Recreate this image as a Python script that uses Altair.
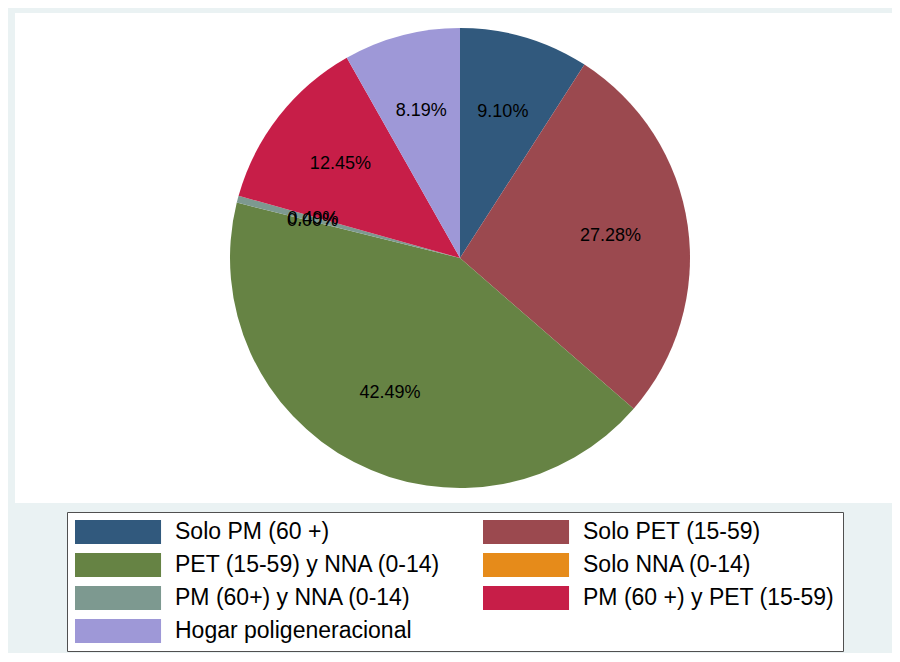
import altair as alt
import pandas as pd

categories = [
    "Solo PM (60 +)",
    "Solo PET (15-59)",
    "PET (15-59) y NNA (0-14)",
    "Solo NNA (0-14)",
    "PM (60+) y NNA (0-14)",
    "PM (60 +) y PET (15-59)",
    "Hogar poligeneracional",
]
shares = [9.10, 27.28, 42.49, 0.00, 0.49, 12.45, 8.19]
colors = ["#31597D", "#9B494F", "#668344", "#E68B1A", "#7D9990", "#C71E48", "#9E98D7"]

df = pd.DataFrame({
    "cat": categories,
    "share": shares,
    "ord": list(range(len(categories))),
    "label": [f"{v:.2f}%" for v in shares],
})

FONT = "Liberation Sans"
CX, CY = 445, 245

theta = alt.Theta("share:Q", stack=True)
order = alt.Order("ord:Q", sort="ascending")

legend = alt.Legend(
    title=None,
    orient="none",
    direction="horizontal",
    legendX=52,
    legendY=499,
    columns=2,
    symbolType="M-1,-1H6.17V1H-1Z",
    symbolSize=576,
    symbolStrokeWidth=0,
    labelFont=FONT,
    labelFontSize=23,
    labelColor="black",
    labelLimit=600,
    labelOffset=76,
    columnPadding=42,
    rowPadding=9,
    padding=8,
    fillColor="white",
    strokeColor="#505050",
)

color = alt.Color(
    "cat:N",
    scale=alt.Scale(domain=categories, range=colors),
    sort=categories,
    legend=legend,
)

arcs = alt.Chart(df).mark_arc(radius=230).encode(
    theta=theta,
    color=color,
    order=order,
    x=alt.value(CX),
    y=alt.value(CY),
)

labels = alt.Chart(df).mark_text(
    radius=152, font=FONT, fontSize=18, color="black"
).encode(
    theta=theta,
    order=order,
    text="label:N",
    x=alt.value(CX),
    y=alt.value(CY),
)

chart = (
    alt.layer(arcs, labels)
    .properties(
        width=877,
        height=490,
        background="#EAF2F3",
        padding={"left": 7, "top": 5, "right": 0, "bottom": 150},
        autosize=alt.AutoSizeParams(type="none"),
    )
    .configure_view(fill="white", stroke=None)
)

chart.save("out.html", embed_options={"renderer": "svg", "actions": False})
